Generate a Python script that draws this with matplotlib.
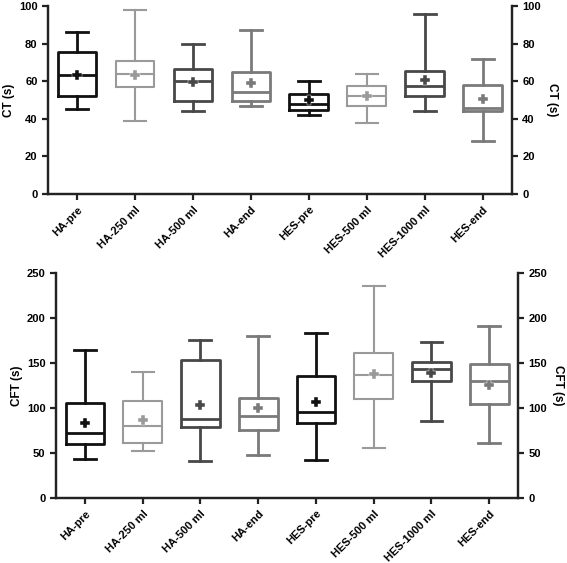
import numpy as np
import matplotlib.pyplot as plt

plt.rcParams['font.family'] = ['Liberation Sans', 'DejaVu Sans']
plt.rcParams['font.weight'] = 'bold'

groups = ['HA-pre', 'HA-250 ml', 'HA-500 ml', 'HA-end',
          'HES-pre', 'HES-500 ml', 'HES-1000 ml', 'HES-end']
colors = ['#111111', '#9a9a9a', '#484848', '#7a7a7a',
          '#111111', '#9a9a9a', '#484848', '#7a7a7a']

# CT (s)
ct_low = [45, 39, 44, 47, 42, 38, 44, 28]
ct_q1 = [52.3, 57, 49.6, 49.5, 44.7, 46.8, 52, 44]
ct_med = [63.5, 63.8, 60, 54.4, 47.9, 52.1, 57.4, 46]
ct_q3 = [75.5, 71, 66.5, 64.7, 53.2, 57.4, 65.6, 58.2]
ct_high = [86, 98, 80, 87, 60, 64, 96, 72]
ct_mean = [63.5, 63.3, 59.5, 59.2, 50.2, 52, 60.6, 50.4]

# CFT (s)
cft_low = [43, 52, 41, 48, 42, 55, 85, 61]
cft_q1 = [59.6, 61, 78.5, 75, 83, 110, 130, 104]
cft_med = [72, 80, 88, 91, 95.6, 137, 143.5, 130]
cft_q3 = [105, 108, 153.5, 111, 135.6, 161, 151, 148.5]
cft_high = [164, 140, 176, 180, 183, 235, 173.5, 191]
cft_mean = [83.5, 87, 103.5, 100, 106.3, 138, 138.5, 125.6]


def style_ticks(a):
    a.tick_params(axis='both', direction='out', width=1.6, length=4,
                  labelsize=8, colors='#222222', labelcolor='black')


def draw_panel(ax, low, q1, med, q3, high, mean, ylim, yticks, ylabel):
    stats = []
    for i in range(len(groups)):
        stats.append(dict(whislo=low[i], q1=q1[i], med=med[i], q3=q3[i],
                          whishi=high[i], mean=mean[i], fliers=[]))
    for i, s in enumerate(stats):
        c = colors[i]
        lw = 1.5 if c == '#9a9a9a' else 2.0
        ax.bxp([s], positions=[i], widths=0.67, showmeans=True,
               showfliers=False, capwidths=0.38,
               boxprops=dict(color=c, linewidth=lw),
               medianprops=dict(color=c, linewidth=lw),
               whiskerprops=dict(color=c, linewidth=lw),
               capprops=dict(color=c, linewidth=lw),
               meanprops=dict(marker='P', markersize=6.5, markerfacecolor=c,
                              markeredgecolor='white', markeredgewidth=0.3,
                              linestyle='none'))
    ax.set_xlim(-0.5, len(groups) - 0.5)
    ax.set_ylim(*ylim)
    ax.set_yticks(yticks)
    ax.set_xticks(range(len(groups)))
    ax.set_xticklabels(groups, rotation=45, ha='right', rotation_mode='anchor',
                       fontsize=8, fontweight='bold')
    style_ticks(ax)
    for lab in ax.get_yticklabels():
        lab.set_fontweight('bold')
    ax.set_ylabel(ylabel, fontsize=8.5, fontweight='bold', labelpad=3)

    twin = ax.twinx()
    twin.set_ylim(*ylim)
    twin.set_yticks(yticks)
    style_ticks(twin)
    for lab in twin.get_yticklabels():
        lab.set_fontweight('bold')
    twin.set_ylabel(ylabel, fontsize=8.5, fontweight='bold', rotation=270,
                    labelpad=12)
    for a in (ax, twin):
        a.spines['top'].set_visible(False)
        for sp in ['left', 'right', 'bottom']:
            a.spines[sp].set_linewidth(1.6)
            a.spines[sp].set_color('#222222')


fig = plt.figure(figsize=(5.67, 5.63), dpi=100)
ax1 = fig.add_axes([0.0847, 0.6554, 0.818, 0.3339])
ax2 = fig.add_axes([0.0988, 0.1155, 0.815, 0.3996])

draw_panel(ax1, ct_low, ct_q1, ct_med, ct_q3, ct_high, ct_mean,
           (0, 100), [0, 20, 40, 60, 80, 100], 'CT (s)')
draw_panel(ax2, cft_low, cft_q1, cft_med, cft_q3, cft_high, cft_mean,
           (0, 250), [0, 50, 100, 150, 200, 250], 'CFT (s)')

fig.savefig('out.png', dpi=100)
